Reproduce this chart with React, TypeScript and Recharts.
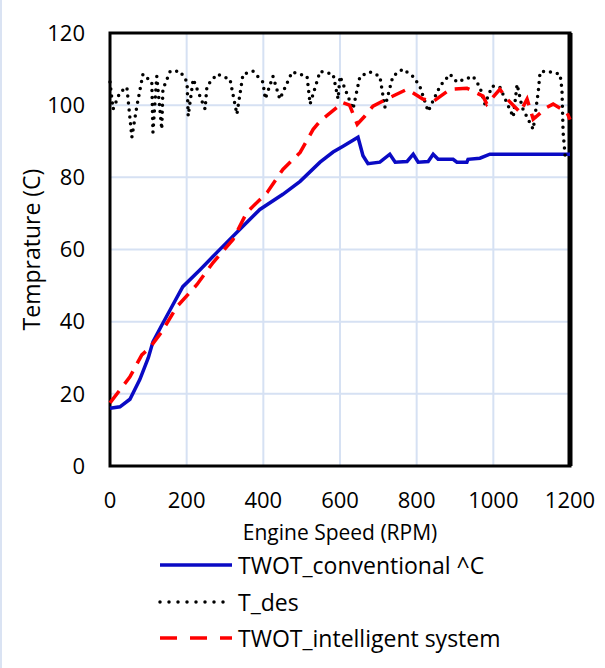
import { LineChart, Line, XAxis, YAxis, CartesianGrid, ReferenceArea, ReferenceLine } from 'recharts';

const xTicks = [0, 200, 400, 600, 800, 1000, 1200];
const yTicks = [0, 20, 40, 60, 80, 100, 120];

// [rpm, temperature]
const conventional = [
  [0, 16], [26, 16.4], [52, 18.5], [78, 24], [100, 30], [112, 34.4], [135, 39], [157, 43.3],
  [190, 49.7], [235, 54.4], [279, 59.2], [339, 65.6], [391, 71.1], [451, 75.3], [496, 78.9],
  [548, 84.2], [582, 87], [608, 88.6], [647, 91.1], [660, 86], [673, 83.8], [704, 84.2],
  [730, 86.4], [744, 84.2], [775, 84.4], [791, 86.4], [804, 84.2], [830, 84.4], [843, 86.4],
  [856, 85], [895, 85], [905, 84.2], [931, 84.2], [934, 85], [965, 85.3], [991, 86.4], [1200, 86.4],
];

const tDes = [
  [0, 106.4], [8, 98.9], [26, 103.6], [44, 105], [57, 91.1], [70, 99.7], [86, 108.6], [109, 106.4],
  [112, 92.5], [122, 108], [135, 93.3], [138, 104.4], [157, 109.4], [183, 109.4], [201, 106.4],
  [204, 97], [217, 107.2], [248, 98.9], [253, 105.3], [279, 108.6], [313, 107.2], [331, 97.5],
  [347, 108.6], [373, 109.4], [399, 106.4], [405, 101.7], [425, 108], [443, 101.7], [475, 109.2],
  [514, 108], [522, 100.3], [548, 109.4], [582, 108.6], [595, 101.7], [600, 108], [634, 98.9],
  [652, 108], [678, 109.2], [704, 108], [717, 99.4], [738, 108], [764, 110], [790, 108],
  [808, 105.3], [830, 98.3], [861, 105.3], [887, 108.6], [905, 106.4], [947, 108], [965, 105],
  [978, 100.3], [997, 105.3], [1017, 105], [1052, 96.7], [1062, 105.8], [1075, 99.4],
  [1104, 93.3], [1117, 103.6], [1122, 109.2], [1140, 109.4], [1174, 108.6], [1179, 104.4],
  [1182, 92.5], [1188, 85],
];

const intelligent = [
  [0, 17.5], [52, 24.7], [83, 30.8], [104, 32.8], [135, 37.2], [175, 44.2], [227, 50.3],
  [269, 56.4], [321, 62.8], [357, 70.3], [410, 75.8], [451, 82.2], [496, 86.9], [530, 93.3],
  [548, 95.6], [592, 99.4], [605, 100.8], [625, 100], [645, 94.7], [665, 97], [686, 99.7],
  [722, 101.7], [775, 104.4], [816, 101.7], [843, 101], [887, 104.4], [931, 104.7], [973, 102.5],
  [983, 100.3], [1017, 104.4], [1036, 101.7], [1070, 98], [1088, 101.7], [1104, 96.1],
  [1140, 99.4], [1156, 100.3], [1192, 98], [1200, 96],
];

const toRows = (pts: number[][]) => pts.map(([x, y]) => ({ x, y }));

const BLUE = '#0a0ac4';
const RED = '#ff0000';
const font = "'Open Sans', sans-serif";

const legendItems = [
  { label: 'TWOT_conventional ^C', color: BLUE, dash: undefined, cap: 'butt' },
  { label: 'T_des', color: '#000', dash: '0 9', cap: 'round' },
  { label: 'TWOT_intelligent system', color: RED, dash: '17 13', cap: 'butt' },
];

export default function App() {
  return (
    <div style={{ position: 'absolute', left: 0, top: 0, width: 605, height: 668, background: '#fff', fontFamily: font, borderLeft: '2px solid #dae3f3', boxSizing: 'border-box' }}>
      <div style={{ position: 'absolute', left: -2, top: 0 }}>
        <LineChart width={605} height={545} margin={{ top: 33, right: 35, left: 0, bottom: 0 }}>
          <CartesianGrid stroke="#d6e1f3" strokeWidth={2} />
          <XAxis
            type="number"
            dataKey="x"
            domain={[0, 1200]}
            ticks={xTicks}
            height={79}
            tickLine={false}
            axisLine={false}
            tickSize={0}
            tickMargin={26}
            tick={{ fill: '#000', fontSize: 22, fontFamily: font }}
            label={{ value: 'Engine Speed (RPM)', position: 'insideBottom', offset: 5, fill: '#000', fontSize: 21, fontFamily: font }}
          />
          <YAxis
            type="number"
            domain={[0, 120]}
            ticks={yTicks}
            width={110}
            tickLine={false}
            axisLine={false}
            tickSize={0}
            tickMargin={25}
            tick={{ fill: '#000', fontSize: 22, fontFamily: font }}
            label={{ value: 'Temprature (C)', angle: -90, position: 'insideLeft', offset: 32, fill: '#000', fontSize: 23, fontFamily: font, style: { textAnchor: 'middle' } }}
          />
          <ReferenceArea x1={0} x2={1200} y1={0} y2={120} fill="none" fillOpacity={0} stroke="#000" strokeWidth={3} />
          <ReferenceLine x={1200} stroke="#000" strokeWidth={5} />
          <Line data={toRows(conventional)} dataKey="y" type="linear" stroke={BLUE} strokeWidth={3.5} dot={false} isAnimationActive={false} />
          <Line data={toRows(tDes)} dataKey="y" type="linear" stroke="#000" strokeWidth={3.5} strokeDasharray="0 7" strokeLinecap="round" dot={false} isAnimationActive={false} />
          <Line data={toRows(intelligent)} dataKey="y" type="linear" stroke={RED} strokeWidth={3.5} strokeDasharray="15 9" dot={false} isAnimationActive={false} />
        </LineChart>
      </div>
      {legendItems.map((item, i) => (
        <div key={item.label} style={{ position: 'absolute', left: 156, top: 548 + i * 36.5, height: 34, display: 'flex', alignItems: 'center' }}>
          <svg width={76} height={8}>
            <line x1={2} y1={4} x2={74} y2={4} stroke={item.color} strokeWidth={3.5} strokeDasharray={item.dash} strokeLinecap={item.cap as any} />
          </svg>
          <span style={{ marginLeft: 4, fontSize: 23, color: '#000', whiteSpace: 'nowrap' }}>{item.label}</span>
        </div>
      ))}
    </div>
  );
}
